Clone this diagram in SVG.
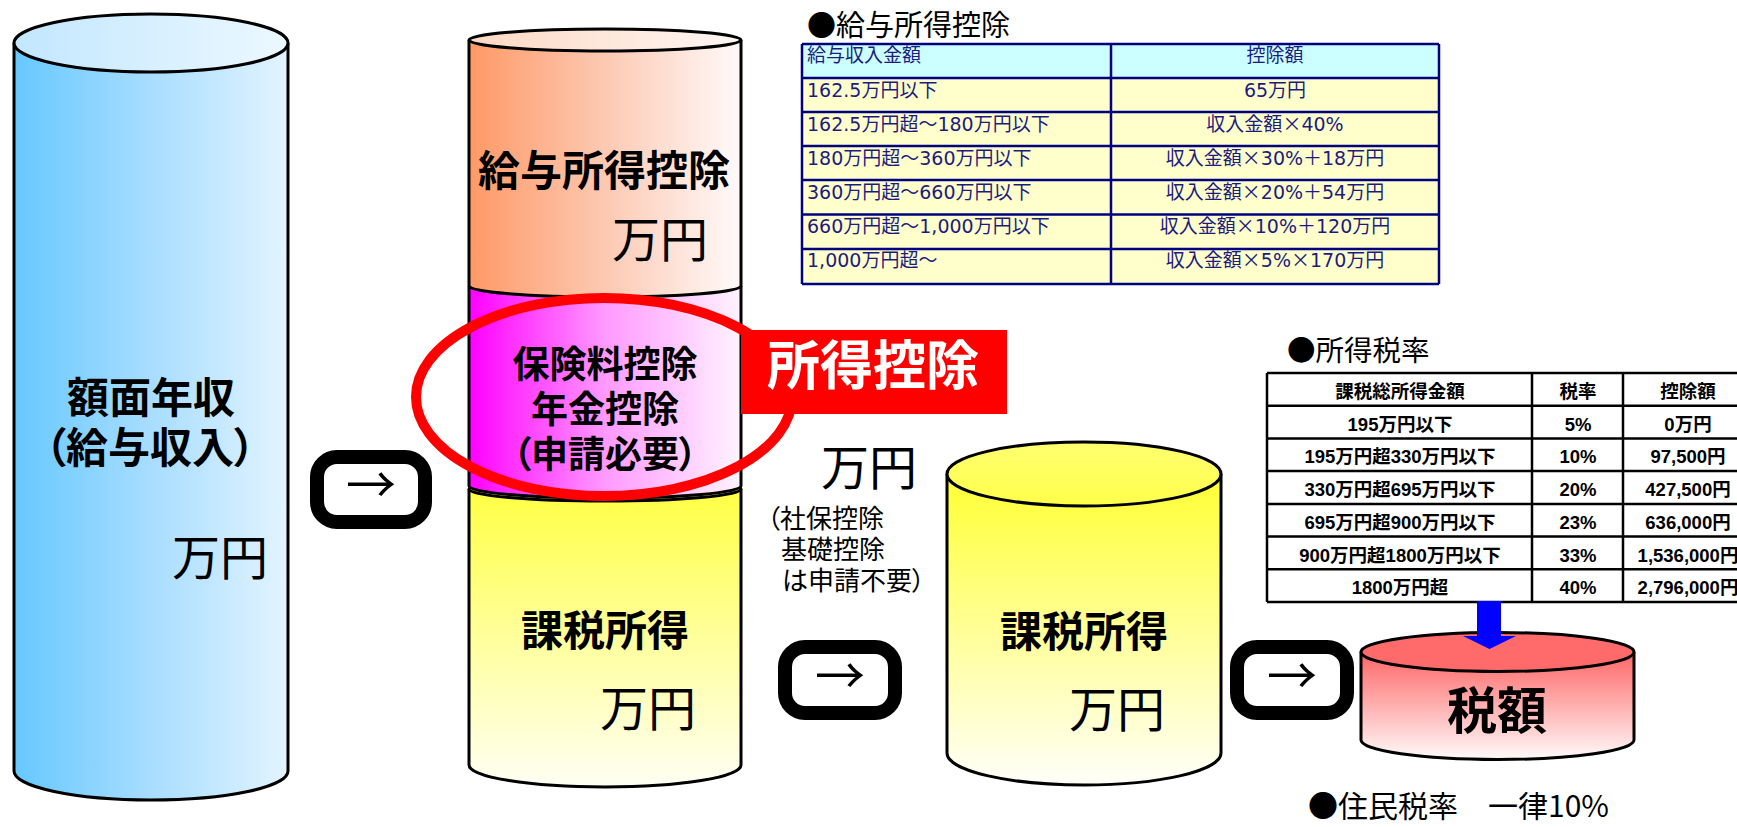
<svg xmlns="http://www.w3.org/2000/svg" width="1737" height="827" viewBox="0 0 1737 827">
<style>
.t{font-family:'Liberation Sans','Noto Sans CJK JP',sans-serif;font-feature-settings:"palt";fill:#000}
.j{font-family:'Noto Sans CJK JP',sans-serif;fill:#000}
.b{font-weight:bold}
.m{text-anchor:middle}
.e{text-anchor:end}
.cyl{stroke:#000;stroke-width:3}
.box{fill:#fff;stroke:#000;stroke-width:14}
.arr{font-family:'Noto Sans CJK JP',sans-serif;font-size:50px;text-anchor:middle;fill:#000}
.s1{font-family:'DejaVu Sans','Noto Sans CJK JP',sans-serif;font-size:19px;fill:#1c1c80}
.x{font-family:'Noto Sans CJK JP',sans-serif}
.s2{font-family:'Liberation Sans','Noto Sans CJK JP',sans-serif;font-size:18.5px;font-weight:bold;fill:#000;text-anchor:middle}
.g1{stroke:#000080;stroke-width:2.5;fill:none}
.g2{stroke:#000;stroke-width:2.5;fill:none}
</style>
<defs>
<linearGradient id="gBlue" x1="0" y1="0" x2="1" y2="0"><stop offset="0" stop-color="#66c8ff"/><stop offset="0.5" stop-color="#a8ddff"/><stop offset="1" stop-color="#e3f4ff"/></linearGradient>
<linearGradient id="gBlueTop" x1="0" y1="0" x2="1" y2="0"><stop offset="0" stop-color="#c2e7ff"/><stop offset="1" stop-color="#ecf8ff"/></linearGradient>
<linearGradient id="gOr" x1="0" y1="0" x2="1" y2="0"><stop offset="0" stop-color="#ff9966"/><stop offset="0.5" stop-color="#fcc9b2"/><stop offset="1" stop-color="#fffafa"/></linearGradient>
<linearGradient id="gOrTop" x1="0" y1="0" x2="1" y2="0"><stop offset="0" stop-color="#fcd8c4"/><stop offset="1" stop-color="#fff6f2"/></linearGradient>
<linearGradient id="gMag" x1="0" y1="0" x2="1" y2="0"><stop offset="0" stop-color="#ff00ff"/><stop offset="0.5" stop-color="#ff99ff"/><stop offset="1" stop-color="#fff4ff"/></linearGradient>
<linearGradient id="gYel" x1="0" y1="0" x2="0" y2="1"><stop offset="0" stop-color="#ffff44"/><stop offset="1" stop-color="#fffff4"/></linearGradient>
<linearGradient id="gYel2" x1="0" y1="0" x2="0" y2="1"><stop offset="0" stop-color="#ffff33"/><stop offset="1" stop-color="#fffffa"/></linearGradient>
<linearGradient id="gYelTop" x1="0" y1="0" x2="0" y2="1"><stop offset="0" stop-color="#ffff70"/><stop offset="1" stop-color="#ffff4a"/></linearGradient>
<linearGradient id="gRed" x1="0" y1="0" x2="0" y2="1"><stop offset="0" stop-color="#ff6666"/><stop offset="1" stop-color="#fffafa"/></linearGradient>
</defs>

<!-- Left cylinder: 額面年収 -->
<g id="node-income">
<path class="cyl" fill="url(#gBlue)" d="M14,43 V771 A137,29 0 0 0 288,771 V43"/>
<ellipse class="cyl" fill="url(#gBlueTop)" cx="151" cy="43" rx="137" ry="29"/>
<text class="t b m" x="151" y="413" font-size="42">額面年収</text>
<text class="t b m" x="150" y="463" font-size="42">（給与収入）</text>
<text class="t e" x="268" y="575" font-size="48">万円</text>
</g>

<!-- Middle stacked cylinder -->
<g id="node-deduction-stack">
<path class="cyl" fill="url(#gYel)" d="M469,489 V765 A136,22 0 0 0 741,765 V489"/>
<ellipse class="cyl" fill="#ffff55" cx="605" cy="489" rx="136" ry="12"/>
<path class="cyl" fill="url(#gMag)" d="M469,286 V486 A136,12 0 0 0 741,486 V286"/>
<path class="cyl" fill="url(#gOr)" d="M469,40 V286 A136,11 0 0 0 741,286 V40"/>
<ellipse class="cyl" fill="url(#gOrTop)" cx="605" cy="40" rx="136" ry="11"/>
<text class="t b m" x="604" y="186" font-size="42">給与所得控除</text>
<text class="t e" x="708" y="257" font-size="48">万円</text>
<text class="t b m" x="605" y="378" font-size="37">保険料控除</text>
<text class="t b m" x="605" y="423" font-size="37">年金控除</text>
<text class="t b m" x="605" y="468" font-size="37">（申請必要）</text>
<text class="t b m" x="605" y="646" font-size="42">課税所得</text>
<text class="t e" x="696" y="726" font-size="48">万円</text>
</g>

<!-- Red highlight -->
<g id="node-highlight">
<ellipse cx="604" cy="397" rx="188" ry="99" fill="none" stroke="#ff0000" stroke-width="10"/>
<rect x="741" y="330" width="266" height="84" fill="#ff0000"/>
<text class="t b m" x="873" y="385" font-size="53" style="fill:#fff">所得控除</text>
</g>

<!-- Note text -->
<g id="node-note">
<text class="t e" x="917" y="485" font-size="48">万円</text>
<text class="t" x="767" y="528" font-size="26">（社保控除</text>
<text class="t" x="781" y="559" font-size="26">基礎控除</text>
<text class="t" x="782" y="590" font-size="26">は申請不要）</text>
</g>

<!-- Right yellow cylinder -->
<g id="node-taxable">
<path class="cyl" fill="url(#gYel2)" d="M947,474 V753 A137,32 0 0 0 1221,753 V474"/>
<ellipse class="cyl" fill="url(#gYelTop)" cx="1084" cy="474" rx="137" ry="32"/>
<text class="t b m" x="1084" y="647" font-size="42">課税所得</text>
<text class="t e" x="1165" y="727" font-size="48">万円</text>
</g>

<!-- Red cylinder 税額 -->
<g id="node-tax">
<path class="cyl" fill="url(#gRed)" d="M1361,652 V740 A136.5,19.5 0 0 0 1634,740 V652"/>
<ellipse class="cyl" fill="#ff6b6b" cx="1497.5" cy="652" rx="136.5" ry="19.5"/>
<text class="t b m" x="1497" y="729" font-size="50">税額</text>
</g>

<!-- Salary deduction table -->
<g id="node-salary-table">
<text class="j" x="807" y="36" font-size="29">●給与所得控除</text>
<rect x="802" y="44" width="637" height="34" fill="#ccffff"/>
<rect x="802" y="78" width="637" height="206" fill="#ffffcc"/>
<path class="g1" d="M802,44 H1439 M802,78 H1439 M802,112 H1439 M802,146 H1439 M802,180 H1439 M802,214.5 H1439 M802,249 H1439 M802,284 H1439 M802,44 V284 M1111,44 V284 M1439,44 V284"/>
<text class="s1" x="807" y="62">給与収入金額</text>
<text class="s1" x="807" y="96.5">162.5万円以下</text>
<text class="s1" x="807" y="130.5">162.5万円超～180万円以下</text>
<text class="s1" x="807" y="164.5">180万円超～360万円以下</text>
<text class="s1" x="807" y="198.5">360万円超～660万円以下</text>
<text class="s1" x="807" y="232.5">660万円超～1,000万円以下</text>
<text class="s1" x="807" y="267">1,000万円超～</text>
<g text-anchor="middle">
<text class="s1" x="1275" y="62">控除額</text>
<text class="s1" x="1275" y="96.5">65万円</text>
<text class="s1" x="1275" y="130.5">収入金額<tspan class="x">×</tspan>40%</text>
<text class="s1" x="1275" y="164.5">収入金額<tspan class="x">×</tspan>30%＋18万円</text>
<text class="s1" x="1275" y="198.5">収入金額<tspan class="x">×</tspan>20%＋54万円</text>
<text class="s1" x="1275" y="232.5">収入金額<tspan class="x">×</tspan>10%＋120万円</text>
<text class="s1" x="1275" y="267">収入金額<tspan class="x">×</tspan>5%<tspan class="x">×</tspan>170万円</text>
</g>
</g>

<!-- Income tax rate table -->
<g id="node-taxrate-table">
<text class="j" x="1287" y="361" font-size="28.5">●所得税率</text>
<rect x="1267" y="373" width="490" height="229" fill="#fff"/>
<path class="g2" d="M1267,373 H1757 M1267,405.7 H1757 M1267,438.4 H1757 M1267,471.1 H1757 M1267,503.9 H1757 M1267,536.6 H1757 M1267,569.3 H1757 M1267,602 H1757 M1267,373 V602 M1532,373 V602 M1623,373 V602"/>
<text class="s2" x="1400" y="398">課税総所得金額</text>
<text class="s2" x="1400" y="430.7">195万円以下</text>
<text class="s2" x="1400" y="463.4">195万円超330万円以下</text>
<text class="s2" x="1400" y="496.1">330万円超695万円以下</text>
<text class="s2" x="1400" y="528.9">695万円超900万円以下</text>
<text class="s2" x="1400" y="561.6">900万円超1800万円以下</text>
<text class="s2" x="1400" y="594.3">1800万円超</text>
<text class="s2" x="1578" y="398">税率</text>
<text class="s2" x="1578" y="430.7">5%</text>
<text class="s2" x="1578" y="463.4">10%</text>
<text class="s2" x="1578" y="496.1">20%</text>
<text class="s2" x="1578" y="528.9">23%</text>
<text class="s2" x="1578" y="561.6">33%</text>
<text class="s2" x="1578" y="594.3">40%</text>
<text class="s2" x="1688" y="398">控除額</text>
<text class="s2" x="1688" y="430.7">0万円</text>
<text class="s2" x="1688" y="463.4">97,500円</text>
<text class="s2" x="1688" y="496.1">427,500円</text>
<text class="s2" x="1688" y="528.9">636,000円</text>
<text class="s2" x="1688" y="561.6">1,536,000円</text>
<text class="s2" x="1688" y="594.3">2,796,000円</text>
</g>

<!-- Resident tax note -->
<g id="node-resident">
<text class="j" x="1308" y="817" font-size="30">●住民税率　一律10%</text>
</g>

<!-- Connectors -->
<g id="connectors">
<rect class="box" x="317" y="457" width="108" height="65" rx="20"/>
<text class="arr" x="371" y="503">→</text>
<rect class="box" x="785" y="647" width="110" height="66" rx="20"/>
<text class="arr" x="840" y="694">→</text>
<rect class="box" x="1237" y="647" width="110" height="66" rx="20"/>
<text class="arr" x="1292" y="694">→</text>
<path d="M1477,601 H1501 V636 H1516 L1489.5,649 L1463,636 H1477 Z" fill="#0000ff"/>
</g>
</svg>
